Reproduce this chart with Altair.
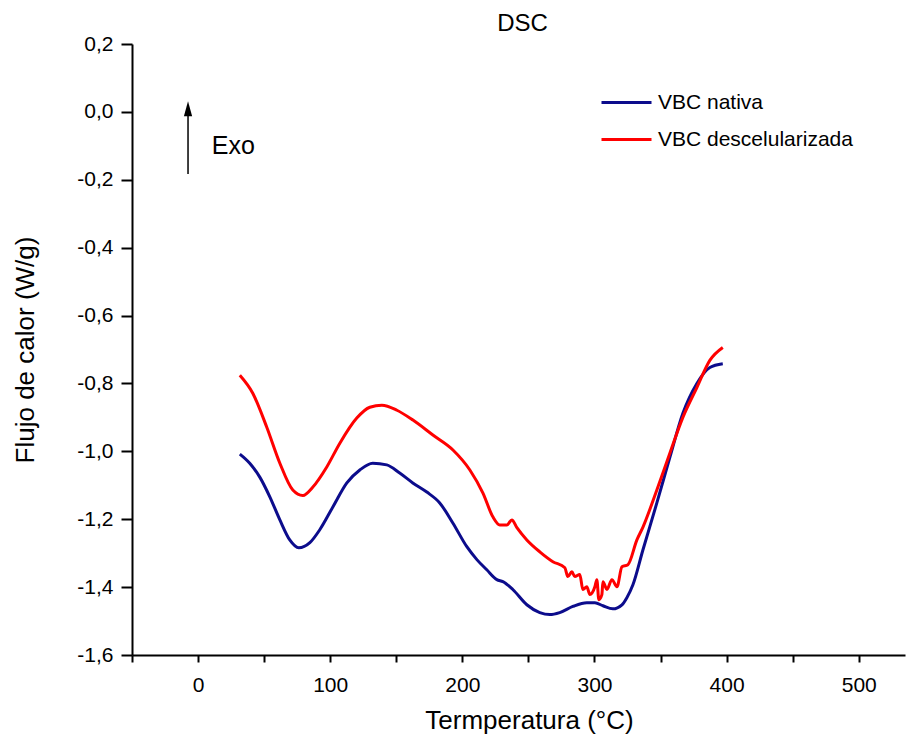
import altair as alt
import pandas as pd

FONT = "Liberation Sans"

series_names = ["VBC nativa", "VBC descelularizada"]
series_colors = ["#0c0c8c", "#ff0000"]

blue_T = [31.6, 39.1, 46.7, 54.3, 61.9, 69.4, 76.2, 84.6, 92.1, 102.0, 112.6, 122.4, 132.2, 142.8,
          152.6, 162.5, 173.1, 182.9, 192.8, 203.4, 211.0, 218.5, 226.1, 230.7, 238.2, 248.8, 258.6,
          266.2, 273.7, 283.6, 294.2, 300.3, 306.4, 313.9, 320.8, 324.5, 329.1, 336.7, 347.2, 357.1,
          366.9, 377.5, 387.3, 397.1]
blue_v = [-1.008, -1.035, -1.076, -1.134, -1.202, -1.261, -1.284, -1.269, -1.231, -1.164, -1.093,
          -1.055, -1.035, -1.040, -1.064, -1.093, -1.120, -1.152, -1.211, -1.281, -1.319, -1.349,
          -1.378, -1.384, -1.407, -1.452, -1.475, -1.481, -1.475, -1.457, -1.446, -1.446, -1.455,
          -1.464, -1.452, -1.431, -1.393, -1.290, -1.152, -1.017, -0.888, -0.800, -0.753, -0.742]

red_T = [31.6, 41.4, 52.0, 61.9, 71.7, 79.3, 86.9, 97.4, 107.3, 120.1, 130.0, 139.1, 150.5, 162.6,
         177.7, 192.9, 205.7, 215.6, 223.1, 228.4, 233.7, 237.5, 241.3, 248.8, 258.6, 268.5, 277.6,
         279.8, 282.9, 285.1, 288.9, 291.2, 294.2, 296.5, 300.3, 301.8, 303.3, 305.6, 306.4, 309.4,
         313.2, 317.0, 320.8, 325.3, 332.1, 336.7, 347.2, 357.1, 366.9, 377.5, 387.3, 397.1]
red_v = [-0.776, -0.829, -0.929, -1.035, -1.114, -1.130, -1.105, -1.046, -0.976, -0.902, -0.870,
         -0.864, -0.879, -0.908, -0.952, -0.996, -1.055, -1.123, -1.193, -1.217, -1.217, -1.202,
         -1.225, -1.261, -1.296, -1.325, -1.343, -1.369, -1.355, -1.369, -1.363, -1.407, -1.399,
         -1.422, -1.399, -1.378, -1.437, -1.422, -1.384, -1.407, -1.378, -1.399, -1.340, -1.334,
         -1.261, -1.223, -1.114, -1.005, -0.900, -0.812, -0.732, -0.694]

x_ticks = [-50, 0, 50, 100, 150, 200, 250, 300, 350, 400, 450, 500]
y_ticks = [0.2, 0.1, 0.0, -0.1, -0.2, -0.3, -0.4, -0.5, -0.6, -0.7, -0.8, -0.9, -1.0,
           -1.1, -1.2, -1.3, -1.4, -1.5, -1.6]

# Exo arrow annotation (data coordinates)
arrow_T = [-7.6]
arrow_v_start = [-0.183]
arrow_v_end = [0.0]
arrow_head_v = [0.009]
exo_T = [10.4]
exo_v = [-0.101]
exo_label = ["Exo"]

df = pd.concat([
    pd.DataFrame({"T": blue_T, "v": blue_v, "serie": series_names[0]}),
    pd.DataFrame({"T": red_T, "v": red_v, "serie": series_names[1]}),
], ignore_index=True)

x_scale = alt.Scale(domain=[-50, 535], nice=False, zero=False)
y_scale = alt.Scale(domain=[-1.6, 0.2], nice=False, zero=False)

lines = alt.Chart(df).mark_line(strokeWidth=3, interpolate="monotone").encode(
    x=alt.X("T:Q", scale=x_scale, title="Termperatura (°C)",
            axis=alt.Axis(values=x_ticks, grid=False,
                          labelExpr="datum.value % 100 == 0 ? datum.value : ''",
                          tickSize=7, labelPadding=12, titlePadding=12, titleX=397)),
    y=alt.Y("v:Q", scale=y_scale, title="Flujo de calor (W/g)",
            axis=alt.Axis(values=y_ticks, grid=False,
                          labelExpr="abs(round(datum.value*10)) % 2 == 0 ? replace(replace(format(datum.value, '.1f'), '.', ','), '\u2212', '-') : ''",
                          tickSize={"condition": {"test": "abs(round(datum.value*10)) % 2 == 0", "value": 11}, "value": 6},
                          labelPadding=8, titlePadding=38)),
    color=alt.Color("serie:N", scale=alt.Scale(domain=series_names, range=series_colors),
                    legend=alt.Legend(title=None, orient="none", legendX=468, legendY=32,
                                      symbolType="stroke", symbolSize=2500, symbolStrokeWidth=3,
                                      labelFontSize=21, labelFont=FONT, labelColor="black",
                                      labelOffset=5, rowPadding=-30, labelLimit=400)),
)

arrow_df = pd.DataFrame({"T": arrow_T, "v": arrow_v_start, "v2": arrow_v_end})
arrow = alt.Chart(arrow_df).mark_rule(color="black", strokeWidth=1.5).encode(
    x="T:Q", y="v:Q", y2="v2:Q")

head_df = pd.DataFrame({"T": arrow_T, "v": arrow_head_v})
head = alt.Chart(head_df).mark_point(shape="M0,-1L0.55,1L-0.55,1Z", filled=True, opacity=1,
                                     color="black", size=225).encode(x="T:Q", y="v:Q")

exo_df = pd.DataFrame({"T": exo_T, "v": exo_v, "label": exo_label})
exo = alt.Chart(exo_df).mark_text(align="left", baseline="middle", fontSize=25, font=FONT,
                                  color="black").encode(x="T:Q", y="v:Q", text="label:N")

chart = alt.layer(lines, arrow, head, exo).properties(
    width=773, height=611,
    title=alt.TitleParams("DSC", fontSize=24, font=FONT, fontWeight="normal", color="black",
                          dx=4, offset=-3),
    autosize=alt.AutoSizeParams(type="none"),
    padding={"left": 124, "top": 36, "right": 2, "bottom": 79},
).configure_view(stroke=None).configure_axis(
    domainColor="black", domainWidth=2, tickColor="black", tickWidth=2,
    labelFont=FONT, labelFontSize=21, labelColor="black",
    titleFont=FONT, titleFontSize=26, titleFontWeight="normal", titleColor="black",
)

chart.save("out.html", embed_options={"renderer": "svg", "actions": False})
